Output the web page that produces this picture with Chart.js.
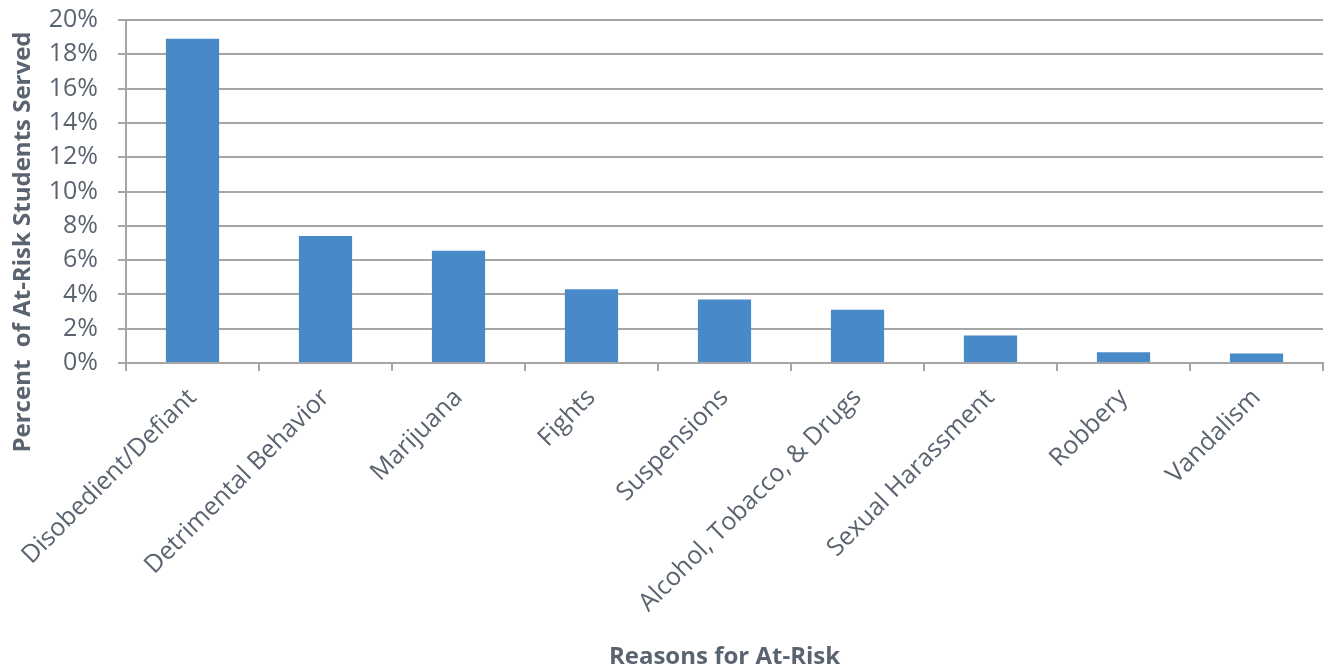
<!DOCTYPE html>
<html>
<head>
<meta charset="utf-8">
<script src="https://cdn.jsdelivr.net/npm/chart.js@4/dist/chart.umd.min.js"></script>
<style>
  html, body { margin: 0; padding: 0; background: #fff; }
  #wrap { width: 1329px; height: 668px; position: relative; }
</style>
</head>
<body>
<div id="wrap"><canvas id="c" width="1329" height="668"></canvas></div>
<script>
// Reasons students were flagged as at-risk
const categories = [
  'Disobedient/Defiant',
  'Detrimental Behavior',
  'Marijuana',
  'Fights',
  'Suspensions',
  'Alcohol, Tobacco, & Drugs',
  'Sexual Harassment',
  'Robbery',
  'Vandalism'
];
// Share of at-risk students served, in percent
const percentServed = [18.9, 7.4, 6.55, 4.3, 3.7, 3.1, 1.6, 0.62, 0.56];

const yTickStep = 2;
const yMax = 20;

const xTitle = 'Reasons for At-Risk';
const yTitle = 'Percent  of At-Risk Students Served';

const textColor = '#5a6370';
const gridColor = '#a6a6a6';
const fontFamily = '"Open Sans", "Liberation Sans", sans-serif';

// Vertical axis title, placed at a fixed spot left of the tick labels
const yTitlePlugin = {
  id: 'yTitle',
  afterDraw(chart) {
    const ctx = chart.ctx;
    ctx.save();
    ctx.translate(23, 242);
    ctx.rotate(-Math.PI / 2);
    ctx.textAlign = 'center';
    ctx.textBaseline = 'middle';
    ctx.fillStyle = textColor;
    ctx.font = 'bold 24px ' + fontFamily;
    ctx.fillText(yTitle, 0, 0);
    ctx.restore();
  }
};

new Chart(document.getElementById('c'), {
  type: 'bar',
  data: {
    labels: categories,
    datasets: [{
      data: percentServed,
      backgroundColor: '#4889c8',
      borderWidth: 0,
      barPercentage: 0.4,
      categoryPercentage: 1.0
    }]
  },
  plugins: [yTitlePlugin],
  options: {
    responsive: false,
    animation: false,
    devicePixelRatio: 1,
    layout: { padding: { left: 6, right: 6, top: 6, bottom: 0 } },
    plugins: { legend: { display: false }, tooltip: { enabled: false } },
    scales: {
      x: {
        afterFit: s => { s.height = 305; s.paddingLeft = 0; s.paddingRight = 0; },
        grid: {
          display: true,
          drawOnChartArea: false,
          drawTicks: true,
          tickLength: 8,
          color: gridColor,
          lineWidth: 2,
          offset: true
        },
        border: { color: gridColor, width: 2 },
        ticks: {
          color: textColor,
          font: { family: fontFamily, size: 25 },
          minRotation: 45,
          maxRotation: 45,
          autoSkip: false,
          padding: 12
        },
        title: {
          display: true,
          text: xTitle,
          color: textColor,
          font: { family: fontFamily, size: 24, weight: 'bold' },
          padding: { top: 10, bottom: -4 }
        }
      },
      y: {
        afterFit: s => { s.width = 120; s.paddingTop = 20; s.paddingBottom = 0; },
        min: 0,
        max: yMax,
        ticks: {
          stepSize: yTickStep,
          autoSkip: false,
          color: textColor,
          font: { family: fontFamily, size: 25 },
          padding: 20,
          callback: v => v + '%'
        },
        grid: {
          color: gridColor,
          lineWidth: 2,
          tickLength: 8,
          drawTicks: true
        },
        border: { color: gridColor, width: 2 },
        title: { display: false }
      }
    }
  }
});
</script>
</body>
</html>
